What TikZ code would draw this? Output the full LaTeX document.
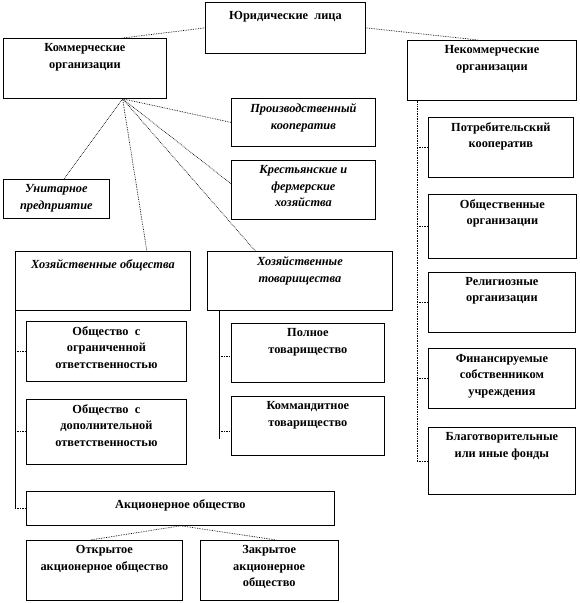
\documentclass[tikz,border=0pt]{standalone}
\usepackage{fontspec}
\setmainfont{Liberation Serif}
\usetikzlibrary{positioning, calc}

\tikzset{
  orgbox/.style={draw, line width=0.8pt, inner sep=0pt, anchor=north west},
  orgtext/.style={inner sep=0pt, align=center, font=\fontsize{12.4}{16.5}\selectfont\bfseries, execute at begin node=\strut},
  kindtext/.style={orgtext, font=\fontsize{12.4}{16.5}\selectfont\bfseries\itshape},
  link/.style={densely dotted, line width=0.7pt},
  trunk/.style={line width=0.8pt}
}

\begin{document}
\begin{tikzpicture}[x=1bp, y=-1bp]
\useasboundingbox (0,0) rectangle (580,603);

% top level
\node[orgbox, minimum width=160bp, minimum height=51bp] (jur) at (205,2) {};
\node[orgbox, minimum width=163bp, minimum height=60bp] (kom) at (3,38) {};
\node[orgbox, minimum width=169bp, minimum height=60bp] (nekom) at (407,40) {};

% commercial kinds
\node[orgbox, minimum width=144bp, minimum height=48bp] (proizv) at (231,98) {};
\node[orgbox, minimum width=144bp, minimum height=59bp, below=13bp of proizv.south west, anchor=north west] (krest) {};
\node[orgbox, minimum width=106bp, minimum height=39bp] (unit) at (3,179) {};
\node[orgbox, minimum width=175bp, minimum height=59bp] (hozob) at (15,251) {};
\node[orgbox, minimum width=185bp, minimum height=59bp] (hoztov) at (207,251) {};

\node[orgbox, minimum width=160bp, minimum height=60bp] (ooo) at (26,321) {};
\node[orgbox, minimum width=160bp, minimum height=65bp, below=17bp of ooo.south west, anchor=north west] (odo) {};
\node[orgbox, minimum width=153bp, minimum height=59bp] (poln) at (231,323) {};
\node[orgbox, minimum width=153bp, minimum height=59bp, below=13bp of poln.south west, anchor=north west] (komm) {};
\node[orgbox, minimum width=308bp, minimum height=34bp] (ao) at (26,491) {};
\node[orgbox, minimum width=156bp, minimum height=60bp] (oao) at (26,540) {};
\node[orgbox, minimum width=138bp, minimum height=60bp, right=17bp of oao.north east, anchor=north west] (zao) {};

% non-commercial column
\node[orgbox, minimum width=145bp, minimum height=60bp] (potr) at (428,117) {};
\node[orgbox, minimum width=148bp, minimum height=64bp, below=16bp of potr.south west, anchor=north west] (obsh) {};
\node[orgbox, minimum width=147bp, minimum height=60bp, below=13bp of obsh.south west, anchor=north west] (relig) {};
\node[orgbox, minimum width=147bp, minimum height=60bp, below=16bp of relig.south west, anchor=north west] (finans) {};
\node[orgbox, minimum width=147bp, minimum height=67bp, below=18bp of finans.south west, anchor=north west] (blag) {};

% texts
\node[orgtext, below=5.5bp of jur.north] (jurtext) {Юридические~ лица};
\node[orgtext, below=5.5bp of kom.north] (komtext) {Коммерческие\\организации};
\node[orgtext, below=5.5bp of nekom.north] (nekomtext) {Некоммерческие\\организации};
\node[kindtext, below=5.5bp of proizv.north] (proizvtext) {Производственный\\кооператив};
\node[kindtext, below=5.5bp of krest.north] (kresttext) {Крестьянские и\\фермерские\\хозяйства};
\node[kindtext, below=5.5bp of unit.north] (unittext) {Унитарное\\предприятие};
\node[kindtext, below=5.5bp of hozob.north] (hozobtext) {Хозяйственные общества};
\node[kindtext, below=5.5bp of hoztov.north] (hoztovtext) {Хозяйственные\\товарищества};
\node[orgtext, below=5.5bp of ooo.north] (oootext) {Общество~ с\\ограниченной\\ответственностью};
\node[orgtext, below=5.5bp of odo.north] (odotext) {Общество~ с\\дополнительной\\ответственностью};
\node[orgtext, below=5.5bp of poln.north] (polntext) {Полное\\товарищество};
\node[orgtext, below=5.5bp of komm.north] (kommtext) {Коммандитное\\товарищество};
\node[orgtext, below=5.5bp of ao.north] (aotext) {Акционерное общество};
\node[orgtext, below=5.5bp of oao.north] (oaotext) {Открытое\\акционерное общество};
\node[orgtext, below=5.5bp of zao.north] (zaotext) {Закрытое\\акционерное\\общество};
\node[orgtext, below=5.5bp of potr.north] (potrtext) {Потребительский\\кооператив};
\node[orgtext, below=5.5bp of obsh.north] (obshtext) {Общественные\\организации};
\node[orgtext, below=5.5bp of relig.north] (religtext) {Религиозные\\организации};
\node[orgtext, below=5.5bp of finans.north] (finanstext) {Финансируемые\\собственником\\учреждения};
\node[orgtext, below=5.5bp of blag.north] (blagtext) {Благотворительные\\или иные фонды};

% links from the top
\draw[link] ($(kom.north west)!0.73!(kom.north east)$) -- (jur.west);
\draw[link] (jur.east) -- ($(nekom.north west)!0.42!(nekom.north east)$);

\coordinate (komhub) at ($(kom.south west)!0.73!(kom.south east)$);
\draw[link] (komhub) -- (proizv.west);
\draw[link] (komhub) -- ($(krest.north west)!0.4!(krest.south west)$);
\draw[link] (komhub) -- ($(unit.north west)!0.57!(unit.north east)$);
\draw[link] (komhub) -- ($(hozob.north west)!0.75!(hozob.north east)$);
\draw[link] (komhub) -- ($(hoztov.north west)!0.26!(hoztov.north east)$);

% societies
\draw[trunk] (hozob.south west) -- (hozob.south west |- ao.west);
\foreach \n in {ooo, odo, ao}
  \draw[link] (hozob.south west |- \n.west) -- (\n.west);

% partnerships
\coordinate (tovroot) at ($(hoztov.south west)+(12,0)$);
\coordinate (pol) at ($(poln.north west)!0.56!(poln.south west)$);
\coordinate (kom2) at ($(komm.north west)!0.6!(komm.south west)$);
\draw[trunk] (tovroot) -- ($(tovroot |- kom2)+(0,7)$);
\draw[link] (tovroot |- pol) -- (pol);
\draw[link] (tovroot |- kom2) -- (kom2);

% non-commercial
\coordinate (nekroot) at ($(nekom.south west)+(10,0)$);
\draw[link] (nekroot) -- (nekroot |- blag.west);
\foreach \n in {potr, obsh, relig, finans, blag}
  \draw[link] (nekroot |- \n.west) -- (\n.west);

% joint-stock
\draw[link] (ao.south) -- ($(oao.north west)!0.41!(oao.north east)$);
\draw[link] (ao.south) -- ($(zao.north west)!0.55!(zao.north east)$);
\end{tikzpicture}
\end{document}
